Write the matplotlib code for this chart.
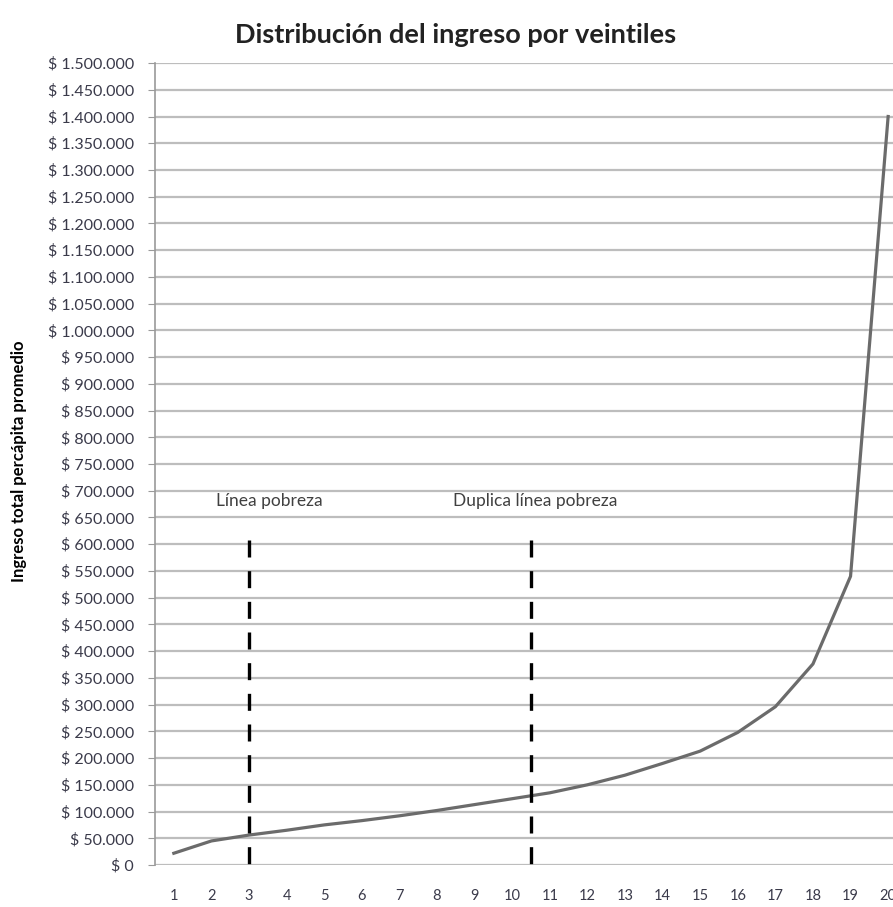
import numpy as np
import matplotlib
matplotlib.use("Agg")
import matplotlib.pyplot as plt
from matplotlib.ticker import FuncFormatter

plt.rcParams["font.family"] = ["Lato", "DejaVu Sans"]

veintiles = list(range(1, 21))
ingreso = [22000, 45000, 56000, 65000, 75000, 83000, 92000, 102000, 113000, 124000,
           135000, 150000, 168000, 190000, 213000, 248000, 296000, 376000, 540000, 1400000]

linea_pobreza_x = 3
duplica_x = 10.5
marcas_alto = 608000
etiquetas = ["Línea pobreza", "Duplica línea pobreza"]
etiquetas_x = [3.55, 10.6]
etiquetas_y = 681000

fig = plt.figure(figsize=(8.93, 9.07), dpi=100)
ax = fig.add_axes([0.1736, 0.0463, 0.842, 0.8842])

ax.plot(veintiles, ingreso, color="#6b6b6b", lw=2.3, solid_joinstyle="miter", zorder=3)

# dibujadas de arriba hacia abajo: trazo en ambos extremos
for xv in (linea_pobreza_x, duplica_x):
    ax.plot([xv, xv], [marcas_alto, 0], color="black", lw=2.4,
            dashes=(5.1, 4.1), zorder=4)

for t, xv in zip(etiquetas, etiquetas_x):
    ax.text(xv, etiquetas_y, t, ha="center", va="center", fontsize=12.5, color="#404040")

ax.set_xlim(0.5, 20.5)
ax.set_ylim(0, 1500000)
ax.set_xticks(veintiles)
ax.set_yticks(np.arange(0, 1500001, 50000))

def fmt(v, pos):
    return "$ " + f"{int(v):,}".replace(",", ".")

ax.yaxis.set_major_formatter(FuncFormatter(fmt))
ax.grid(axis="y", color="#bdbdbd", lw=1.6)
ax.set_axisbelow(True)
for s in ("top", "right", "bottom"):
    ax.spines[s].set_visible(False)
ax.spines["left"].set_color("#9a9a9a")
ax.spines["left"].set_linewidth(1.2)

ax.tick_params(axis="y", length=5, color="#9a9a9a", labelsize=11.5,
               labelcolor="#3a3a4a", pad=10)
ax.tick_params(axis="x", length=0, labelsize=10.5, labelcolor="#3a3a4a", pad=17)

fig.text(0.021, 0.492, "Ingreso total percápita promedio", rotation=90,
         ha="center", va="center", fontsize=12, fontweight="bold", color="black")
fig.text(0.51, 0.961, "Distribución del ingreso por veintiles", ha="center",
         va="center", fontsize=19.5, fontweight="bold", color="#222222")

fig.savefig("out.png", dpi=100)
